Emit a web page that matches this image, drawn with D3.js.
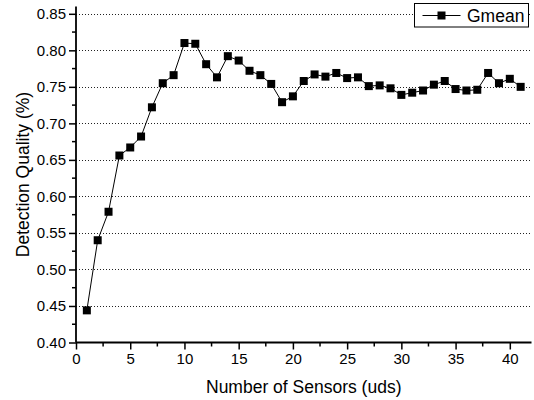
<!DOCTYPE html>
<html>
<head>
<meta charset="utf-8">
<script src="https://cdn.jsdelivr.net/npm/d3@7.9.0/dist/d3.min.js"></script>
<style>
  html, body { margin: 0; padding: 0; background: #fff; }
  svg { display: block; font-family: Arial, 'Liberation Sans', sans-serif; }
</style>
</head>
<body>
<svg id="chart" width="534" height="400"></svg>
<script>
// sensor counts 1..41 and the Gmean
const sensors = d3.range(1, 42);
const gmean = [
  0.444, 0.540, 0.579, 0.656, 0.667, 0.682, 0.722, 0.755, 0.766, 0.810,
  0.809, 0.781, 0.763, 0.792, 0.786, 0.772, 0.766, 0.754, 0.729, 0.737,
  0.758, 0.767, 0.764, 0.769, 0.762, 0.763, 0.751, 0.752, 0.748, 0.739,
  0.742, 0.745, 0.753, 0.758, 0.747, 0.745, 0.746, 0.769, 0.755, 0.761,
  0.750,
];
const xTicks = [0, 5, 10, 15, 20, 25, 30, 35, 40];
const yTicks = [0.40, 0.45, 0.50, 0.55, 0.60, 0.65, 0.70, 0.75, 0.80, 0.85];
const seriesName = 'Gmean';

const width = 534;
const height = 400;
const margin = { top: 6.5, right: 2.5, bottom: 57.5, left: 76 };

const svg = d3.select('#chart');

const x = d3.scaleLinear().domain([0, 42]).range([margin.left, width - margin.right]);
const y = d3.scaleLinear().domain([0.40, 0.86]).range([height - margin.bottom, margin.top]);

// dotted horizontal grid at the major y ticks
svg.append('g')
  .selectAll('line')
  .data(yTicks.filter((t) => t > 0.40))
  .join('line')
  .attr('x1', x(0))
  .attr('x2', x(42))
  .attr('y1', (d) => Math.round(y(d)) + 0.5)
  .attr('y2', (d) => Math.round(y(d)) + 0.5)
  .attr('stroke', '#222')
  .attr('stroke-width', 1)
  .attr('stroke-dasharray', '1,2');

// minor ticks
const xMinor = d3.range(2.5, 42, 5);
const yMinor = d3.range(0.425, 0.86, 0.05);

const xAxisG = svg.append('g')
  .attr('transform', `translate(0,${y(0.40)})`)
  .call(d3.axisBottom(x).tickValues(xTicks).tickSize(7).tickPadding(4).tickFormat(d3.format('d')));

xAxisG.selectAll('.minor')
  .data(xMinor)
  .join('line')
  .attr('class', 'minor')
  .attr('x1', (d) => x(d))
  .attr('x2', (d) => x(d))
  .attr('y1', 0)
  .attr('y2', 4)
  .attr('stroke', '#000')
  .attr('stroke-width', 1.5);

const yAxisG = svg.append('g')
  .attr('transform', `translate(${x(0)},0)`)
  .call(d3.axisLeft(y).tickValues(yTicks).tickSize(7).tickPadding(3).tickFormat(d3.format('.2f')));

yAxisG.selectAll('.minor')
  .data(yMinor)
  .join('line')
  .attr('class', 'minor')
  .attr('x1', 0)
  .attr('x2', -4)
  .attr('y1', (d) => y(d))
  .attr('y2', (d) => y(d))
  .attr('stroke', '#000')
  .attr('stroke-width', 1.5);

for (const g of [xAxisG, yAxisG]) {
  g.select('.domain').attr('stroke', '#000').attr('stroke-width', 1.8);
  g.selectAll('.tick line').attr('stroke', '#000').attr('stroke-width', 1.5);
  g.selectAll('.tick text').attr('font-size', 15).attr('fill', '#000').attr('font-family', null);
}
xAxisG.select('.domain').attr('d', `M${x(0)},0H${x(42)}`);
yAxisG.select('.domain').attr('d', `M0,${y(0.40)}V${y(0.86)}`);

// axis titles
svg.append('text')
  .attr('x', (x(0) + x(42)) / 2)
  .attr('y', 393)
  .attr('text-anchor', 'middle')
  .attr('font-size', 17.5)
  .text('Number of Sensors (uds)');

svg.append('text')
  .attr('transform', `translate(29,${(y(0.40) + y(0.86)) / 2}) rotate(-90)`)
  .attr('text-anchor', 'middle')
  .attr('font-size', 17.5)
  .text('Detection Quality (%)');

// series
const points = sensors.map((s, i) => ({ s, v: gmean[i] }));
const markerSize = 8;

svg.append('path')
  .datum(points)
  .attr('fill', 'none')
  .attr('stroke', '#000')
  .attr('stroke-width', 1)
  .attr('d', d3.line().x((d) => x(d.s)).y((d) => y(d.v)));

svg.append('g')
  .selectAll('rect')
  .data(points)
  .join('rect')
  .attr('x', (d) => x(d.s) - markerSize / 2)
  .attr('y', (d) => y(d.v) - markerSize / 2)
  .attr('width', markerSize)
  .attr('height', markerSize)
  .attr('fill', '#000');

// legend
const legend = svg.append('g').attr('transform', 'translate(414.5,3.5)');
legend.append('rect')
  .attr('width', 114)
  .attr('height', 23.5)
  .attr('fill', '#fff')
  .attr('stroke', '#000')
  .attr('stroke-width', 1);
legend.append('line')
  .attr('x1', 8).attr('x2', 46)
  .attr('y1', 12).attr('y2', 12)
  .attr('stroke', '#000')
  .attr('stroke-width', 1);
legend.append('rect')
  .attr('x', 27 - markerSize / 2)
  .attr('y', 12 - markerSize / 2)
  .attr('width', markerSize)
  .attr('height', markerSize)
  .attr('fill', '#000');
legend.append('text')
  .attr('x', 52.5)
  .attr('y', 18.5)
  .attr('font-size', 17.5)
  .text(seriesName);
</script>
</body>
</html>
